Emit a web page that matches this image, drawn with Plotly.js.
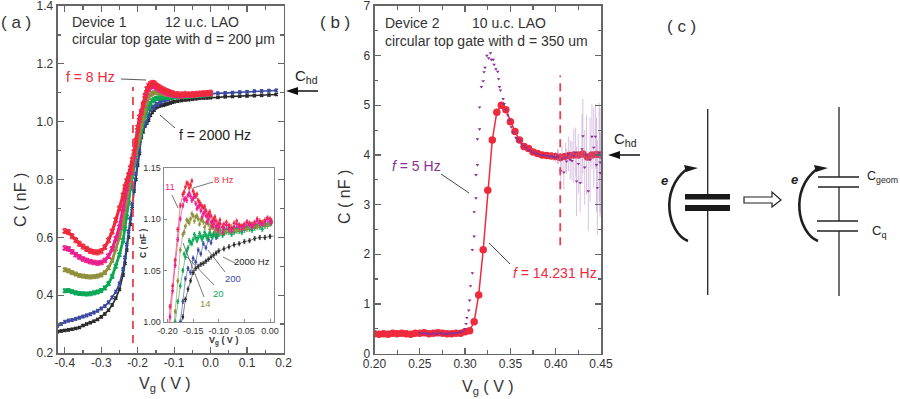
<!DOCTYPE html>
<html><head><meta charset="utf-8">
<script src="https://cdn.plot.ly/plotly-3.0.1.min.js"></script>
<style>html,body{margin:0;padding:0;background:#fff}</style></head>
<body><div id="g" style="width:900px;height:399px"></div>
<script>
// ---------- panel (a) data ----------
const vgExtra=[-0.42,-0.41];
const vgLow=[-0.40,-0.39,-0.38,-0.37,-0.36,-0.35,-0.34,-0.33,-0.32,-0.31,-0.30,-0.29,-0.28,-0.27,-0.26,-0.25,-0.24];
const vgMid=[-0.235,-0.23,-0.225,-0.22,-0.215,-0.21,-0.205,-0.20,-0.195,-0.19,-0.185,-0.18,-0.175,-0.17,-0.165,-0.16,-0.155,-0.15,-0.145,-0.14,-0.135,-0.13,-0.125,-0.12,-0.115,-0.11,-0.105,-0.10];
const vgHigh=[-0.09,-0.08,-0.07,-0.06,-0.05,-0.04,-0.03,-0.02,-0.01,0.0];
const vgTail=[0.02,0.04,0.06,0.08,0.10,0.12,0.14,0.16,0.18];
const c8=[.622,.618,.604,.59,.578,.568,.56,.553,.549,.548,.552,.566,.59,.62,.66,.70,.745,
 .775,.795,.815,.84,.868,.895,.935,.98,1.015,1.035,1.06,1.09,1.113,1.124,1.131,1.134,1.133,1.127,1.122,1.118,1.114,1.111,1.108,1.105,1.103,1.10,1.098,1.096,
 1.095,1.094,1.096,1.094,1.095,1.096,1.097,1.098,1.099,1.10];
const c11=[.563,.56,.55,.54,.532,.525,.52,.516,.513,.511,.513,.52,.535,.56,.595,.635,.70,
 .74,.77,.80,.825,.85,.88,.92,.97,1.005,1.03,1.055,1.08,1.10,1.113,1.12,1.123,1.122,1.12,1.115,1.112,1.108,1.105,1.103,1.10,1.097,1.095,1.093,1.092,
 1.091,1.09,1.092,1.092,1.093,1.094,1.095,1.096,1.097,1.098];
const c14=[.488,.484,.478,.473,.468,.466,.464,.463,.464,.466,.47,.478,.495,.52,.56,.60,.65,
 .69,.72,.76,.80,.835,.865,.89,.92,.945,.985,1.01,1.04,1.07,1.085,1.093,1.098,1.10,1.103,1.102,1.10,1.099,1.097,1.096,1.095,1.093,1.092,1.091,1.09,
 1.089,1.089,1.09,1.09,1.091,1.092,1.093,1.094,1.095,1.096];
const c20=[.415,.416,.412,.408,.406,.405,.404,.405,.408,.411,.416,.425,.44,.465,.50,.54,.59,
 .63,.67,.72,.77,.81,.85,.885,.915,.94,.965,1.0,1.02,1.035,1.05,1.063,1.072,1.077,1.08,1.082,1.082,1.083,1.083,1.084,1.084,1.084,1.085,1.085,1.085,
 1.086,1.087,1.087,1.088,1.089,1.09,1.091,1.092,1.093,1.095];
const c200=[.294,.30,.308,.312,.314,.318,.322,.326,.33,.334,.34,.346,.354,.362,.375,.392,.412,.44,.49,
 .53,.575,.62,.665,.715,.775,.82,.865,.90,.95,.975,.99,1.0,1.02,1.042,1.052,1.048,1.062,1.058,1.07,1.066,1.076,1.072,1.08,1.077,1.085,1.082,1.089,
 1.086,1.092,1.09,1.094,1.092,1.095,1.094,1.096,1.095,1.097,
 1.098,1.099,1.10,1.102,1.103,1.105,1.106,1.107,1.108];
const c2000=[.274,.276,.278,.28,.282,.285,.288,.295,.30,.305,.31,.316,.325,.335,.348,.366,.39,.42,.47,
 .51,.556,.60,.645,.70,.76,.80,.85,.89,.945,.965,.985,.995,1.005,1.022,1.032,1.04,1.048,1.052,1.054,1.056,1.057,1.059,1.061,1.063,1.065,1.067,1.069,
 1.071,1.073,1.075,1.076,1.078,1.079,1.081,1.082,1.082,1.083,
 1.084,1.086,1.087,1.088,1.089,1.09,1.091,1.092,1.094];
// second sweep readings, seen in the inset's scatter
const vgScan=[-0.1675,-0.1625,-0.1575,-0.1525,-0.1475,-0.1425,-0.1375,-0.1325,-0.1275,-0.1225,-0.1175,-0.1125,-0.1075,-0.1025,-0.0975,-0.0925,-0.085,-0.075,-0.065,-0.055,-0.045,-0.035,-0.025,-0.015,-0.005,0.0025];
const scan8=[1.126,1.135,1.130,1.137,1.124,1.124,1.116,1.112,1.112,1.103,1.107,1.098,1.102,1.094,1.099,1.092,1.097,1.091,1.098,1.093,1.097,1.094,1.100,1.096,1.101,1.098];
const scan11=[1.119,1.118,1.125,1.118,1.122,1.110,1.113,1.102,1.107,1.097,1.103,1.092,1.098,1.089,1.095,1.087,1.094,1.088,1.095,1.090,1.097,1.092,1.098,1.094,1.100,1.096];
const scan14=[1.087,1.099,1.096,1.105,1.098,1.103,1.095,1.100,1.092,1.098,1.090,1.095,1.088,1.093,1.086,1.092,1.087,1.092,1.088,1.093,1.090,1.095,1.092,1.097,1.093,1.099];
const scan20=[1.066,1.069,1.079,1.076,1.085,1.079,1.086,1.080,1.087,1.081,1.087,1.082,1.088,1.083,1.089,1.084,1.090,1.085,1.091,1.087,1.092,1.089,1.094,1.090,1.095,1.096];
const xTicksA=[-0.4,-0.3,-0.2,-0.1,0,0.1,0.2];
const xLabelsA=['-0.4','-0.3','-0.2','-0.1','0.0','0.1','0.2'];
const yTicksA=[0.2,0.4,0.6,0.8,1.0,1.2,1.4];
const yLabelsA=['0.2','0.4','0.6','0.8','1.0','1.2','1.4'];
const xTicksIn=[-0.2,-0.15,-0.1,-0.05,0];
const xLabelsIn=['-0.20','-0.15','-0.10','-0.05','0.00'];
// ---------- panel (b) data ----------
const v14=[.20,.205,.21,.215,.22,.225,.23,.235,.24,.245,.25,.255,.26,.265,.27,.275,.28,.285,.29,.295,.30,.305,.31,.315,.32,.325,.33,.335,.34,.345,.35,.355,.36,.365,.37,.375,.38,.385,.39,.395,.40,.405,.41,.415,.42,.425,.43,.435,.44,.445,.45];
const c14231=[.40,.39,.40,.39,.41,.40,.41,.40,.39,.41,.41,.42,.40,.41,.42,.41,.40,.40,.41,.41,.44,.46,.64,1.18,2.09,3.29,4.30,4.86,5.0,4.91,4.67,4.47,4.30,4.17,4.13,4.06,4.03,4.0,3.99,3.98,3.97,3.95,3.97,3.99,4.0,4.0,4.02,3.96,4.0,4.01,4.0];
const v5=[.25,.2525,.255,.2575,.26,.2625,.265,.2675,.27,.2725,.275,.2775,.28,.2825,.285,.2875,.29,.2925,.295,.2975,.30,.301,.302,.304,.305,.306,.308,.308,.31,.31,.312,.312,.3136,.3136,.316,.316,.318,.32,.321,.322,.324,.326,.328,.329,.331,.332,.334,.336,.337,.338,.339,.342,.343,.345,.347,.349,.351,.353,.356,.36,.365,.37,.375,.38,.385,.39,.395,.40,.403,.4055,.409,.412,.416,.42,.423,.427,.43,.436,.44,.444,.446,.449,.449];
const c5=[.41,.40,.41,.40,.39,.40,.41,.39,.40,.41,.40,.39,.40,.40,.41,.40,.41,.42,.43,.45,.50,.60,.72,.87,1.07,1.36,1.62,2.09,2.36,2.85,3.13,3.6,3.8,4.32,4.52,4.96,5.37,5.49,5.67,5.76,6.0,5.95,6.05,5.92,5.92,5.82,5.73,5.68,5.53,5.37,5.3,5.13,5.03,4.9,4.8,4.7,4.56,4.45,4.35,4.28,4.18,4.1,4.05,4.02,4.0,3.98,3.98,3.95,3.96,3.68,3.65,3.87,3.9,3.98,3.47,3.44,4.38,3.27,4.37,4.37,3.34,3.64,3.85];
const e5=[.02,.02,.02,.02,.02,.02,.02,.02,.02,.02,.02,.02,.02,.02,.02,.02,.02,.02,.02,.02,.02,.02,.02,.02,.02,.02,.02,.02,.02,.02,.02,.02,.02,.02,.02,.02,.02,.02,.02,.02,.02,.02,.02,.02,.02,.02,.02,.02,.02,.02,.02,.02,.02,.02,.02,.02,.02,.02,.02,.02,.02,.02,.02,.02,.02,.03,.05,.1,.15,.3,.35,.25,.4,.55,.7,.6,.75,.8,.65,.65,.95,.8,1.1];
const v5b=[.3575,.3625,.3675,.3725,.3775,.3825,.3875,.3925,.3975,.402,.407,.411,.414,.418,.422,.425,.429,.432,.434,.438,.442,.445,.448];
const c5b=[4.33,4.22,4.14,4.08,4.03,4.0,3.99,3.97,3.96,3.97,3.92,3.95,4.02,3.88,4.05,3.82,4.12,3.75,4.0,3.9,4.15,3.8,4.05];
const e5b=[.02,.02,.02,.02,.02,.02,.03,.04,.08,.15,.25,.3,.35,.4,.5,.6,.7,.75,.8,.85,.8,.95,1.0];
const xTicksB=[.20,.25,.30,.35,.40,.45];
const xLabelsB=['0.20','0.25','0.30','0.35','0.40','0.45'];
// ---------- colours ----------
const RED='#ee2a3c',MAG='#ec1f8e',OLV='#8f8f3c',GRN='#0aa755',BLU='#3b4a9f',BLK='#2a2a2a',PUR='#8a2f96',DASH='#e8404a',FRM='#666666',TXT='#333333';
const FONT='"Liberation Sans",Arial,sans-serif';

const W=900,H=399;
const px=x=>x/W, py=y=>1-y/H;
const xa=(l,r)=>[px(l),px(r)], ya=(t,b)=>[py(b),py(t)];

const xAll=vgLow.concat(vgMid,vgHigh);
const xLong=vgExtra.concat(vgLow,vgMid,vgHigh,vgTail);
const order=[
 {x:xLong,y:c2000,c:BLK,m:3,l:1.6,e:.004},
 {x:xLong,y:c200,c:BLU,m:3,l:1.6,e:.005},
 {x:xAll,y:c20,c:GRN,m:4,l:2.8,e:.007},
 {x:xAll,y:c14,c:OLV,m:4,l:2.8,e:.007},
 {x:xAll,y:c11,c:MAG,m:4.5,l:3.2,e:.008},
 {x:xAll,y:c8,c:RED,m:4.5,l:3.2,e:.009}];
const traces=[];
order.forEach(s=>traces.push({type:'scatter',mode:'lines+markers',x:s.x,y:s.y,xaxis:'x',yaxis:'y',
  line:{color:s.c,width:s.l},marker:{color:s.c,size:s.m,symbol:'x-thin',line:{color:s.c,width:1.5}},
  error_y:{type:'constant',value:s.e,color:s.c,thickness:1,width:1.5},hoverinfo:'skip'}));
const scans={[GRN]:scan20,[OLV]:scan14,[RED]:scan8,[MAG]:scan11};
[order[1],order[0],order[2],order[3],order[5],order[4]].forEach(s=>{
  traces.push({type:'scatter',mode:'lines+markers',x:s.x,y:s.y,xaxis:'x3',yaxis:'y3',
   line:{color:s.c,width:.6},marker:{color:s.c,size:2.8},
   error_y:{type:'constant',value:.002,color:s.c,thickness:.7,width:1},hoverinfo:'skip'});
  if(scans[s.c]) traces.push({type:'scatter',mode:'markers',x:vgScan,y:scans[s.c],xaxis:'x3',yaxis:'y3',
   marker:{color:s.c,size:2.8},error_y:{type:'constant',value:.002,color:s.c,thickness:.7,width:1},hoverinfo:'skip'});
});
traces.push({type:'scatter',mode:'lines+markers',x:v14,y:c14231,xaxis:'x2',yaxis:'y2',
  line:{color:RED,width:1.5},marker:{color:RED,size:7.5},hoverinfo:'skip'});
[[v5,c5,e5],[v5b,c5b,e5b]].forEach(d=>traces.push({type:'scatter',mode:'markers',x:d[0],y:d[1],xaxis:'x2',yaxis:'y2',
  marker:{color:PUR,size:3.2,symbol:'triangle-down'},
  error_y:{type:'data',array:d[2],color:'rgba(170,120,190,.45)',thickness:1,width:0},hoverinfo:'skip'}));

const axBase={showgrid:false,zeroline:false,showline:true,linecolor:FRM,linewidth:1.8,mirror:'allticks',ticks:'inside',tickcolor:FRM,tickwidth:1.3,ticklen:6,tickfont:{family:FONT,size:12,color:TXT},automargin:false,ticklabeloverflow:'allow'};
const minor=d=>({dtick:d,ticks:'inside',ticklen:3.5,tickcolor:FRM,tickwidth:1.2});
const inBase={showgrid:false,zeroline:false,showline:true,linecolor:'#8a8a8a',linewidth:1,mirror:true,ticks:'inside',tickcolor:'#8a8a8a',ticklen:3,tickfont:{family:FONT,size:9,color:TXT},automargin:false,ticklabeloverflow:'allow'};

const layout={width:W,height:H,margin:{l:0,r:0,t:0,b:0,pad:0},paper_bgcolor:'#fff',plot_bgcolor:'rgba(0,0,0,0)',showlegend:false,
 xaxis:Object.assign({},axBase,{domain:xa(57.5,283.5),range:[-0.42,0.2],tickmode:'array',tickvals:xTicksA,ticktext:xLabelsA,minor:minor(0.05),anchor:'y',ticklabelstandoff:-2}),
 yaxis:Object.assign({},axBase,{domain:ya(6,353),range:[0.2,1.4],tickmode:'array',tickvals:yTicksA,ticktext:yLabelsA,minor:minor(0.1),anchor:'x'}),
 xaxis2:Object.assign({},axBase,{domain:xa(374.5,601),range:[0.2,0.45],tickmode:'array',tickvals:xTicksB,ticktext:xLabelsB,minor:minor(0.025),anchor:'y2',ticklabelstandoff:-2}),
 yaxis2:Object.assign({},axBase,{domain:ya(6,353.5),range:[0,7],dtick:1,tickformat:'d',minor:minor(0.5),anchor:'x2'}),
 xaxis3:Object.assign({},inBase,{domain:xa(163.5,273.7),range:[-0.2078,0.0072],tickmode:'array',tickvals:xTicksIn,ticktext:xLabelsIn,anchor:'y3'}),
 yaxis3:Object.assign({},inBase,{domain:ya(167.5,322),range:[1.0,1.15],dtick:.05,tickformat:'.2f',anchor:'x3'})
};

// helpers for notes and drawings in page pixels
const T=(x,y,text,o={})=>({xref:'paper',yref:'paper',x:px(o.a?x:x-2),y:py(y),text,showarrow:false,xanchor:o.a||'left',yanchor:'middle',textangle:o.r||0,
  font:{family:FONT,size:o.s||13,color:o.c||TXT}});
const L=(x0,y0,x1,y1,c='#333',w=1,dash='solid')=>({type:'line',xref:'paper',yref:'paper',x0:px(x0),y0:py(y0),x1:px(x1),y1:py(y1),line:{color:c,width:w,dash}});
const P=(pts,fill='#222',lc=null,w=0)=>({type:'path',xref:'paper',yref:'paper',
  path:pts.map((p,i)=>(i?'L':'M')+px(p[0])+' '+py(p[1])).join(' ')+' Z',fillcolor:fill,line:{color:lc||fill,width:w}});
const C=(a,b,c,d,col='#1f1f1f',w=2.6)=>({type:'path',xref:'paper',yref:'paper',
  path:`M${px(a[0])} ${py(a[1])} C${px(b[0])} ${py(b[1])} ${px(c[0])} ${py(c[1])} ${px(d[0])} ${py(d[1])}`,line:{color:col,width:w}});

layout.annotations=[
 T(16,22,'( a )',{a:'center',s:17}),T(335,22,'( b )',{a:'center',s:17}),T(681,26,'( c )',{a:'center',s:17}),
 T(72,22,'Device 1',{s:14}),T(165,22,'12 u.c. LAO',{s:14}),T(72,39,'circular top gate with d = 200 μm',{s:14}),
 T(66,77,'f = 8 Hz',{c:RED,s:14}),T(179,135,'f = 2000 Hz',{c:'#222',s:14}),
 T(295,77,'C<sub>hd</sub>',{c:'#222',s:15}),
 T(20,200,'C ( nF )',{a:'center',r:-90,s:16}),T(165,384,'V<sub>g</sub> ( V )',{a:'center',s:16}),
 T(224,179,'8 Hz',{a:'center',c:RED,s:9.5}),T(170,186,'11',{a:'center',c:MAG,s:9.5}),
 T(205,303,'14',{a:'center',c:OLV,s:9.5}),T(218,293,'20',{a:'center',c:GRN,s:9.5}),T(233,278,'200',{a:'center',c:BLU,s:9.5}),T(252,261,'2000 Hz',{a:'center',c:'#222',s:9.5}),
 T(143,244,'<b>C ( nF )</b>',{a:'center',r:-90,s:8.5}),T(223,341,'<b>V<sub>g</sub> ( V )</b>',{a:'center',s:9}),
 T(385,23,'Device 2',{s:14}),T(472,23,'10 u.c. LAO',{s:14}),T(385,41,'circular top gate with d = 350 um',{s:14}),
 T(392,166,'<i>f</i> = 5 Hz',{c:PUR,s:14}),T(513,273,'<i>f</i> = 14.231 Hz',{c:RED,s:14}),
 T(614,139,'C<sub>hd</sub>',{c:'#222',s:15}),
 T(345,197,'C ( nF )',{a:'center',r:-90,s:16}),T(488,387,'V<sub>g</sub> ( V )',{a:'center',s:16}),
 T(664,181,'<b><i>e</i></b>',{a:'center',c:'#222',s:13}),T(794,179,'<b><i>e</i></b>',{a:'center',c:'#222',s:13}),
 T(867,177,'C<sub>geom</sub>',{c:'#222',s:12.5}),T(872,231,'C<sub>q</sub>',{c:'#222',s:13})
];
layout.shapes=[
 // dashed gate markers
 {type:'line',xref:'x',yref:'y',x0:-0.213,x1:-0.213,y0:.235,y1:1.12,line:{color:DASH,width:1.8,dash:'8px,6px'}},
 {type:'line',xref:'x2',yref:'y2',x0:.405,x1:.405,y0:2.18,y1:5.6,line:{color:DASH,width:1.8,dash:'8px,6px'}},
 // leaders
 L(121,79,146,80,'#444',.9),L(160,115,175,128,'#444',.9),
 L(193,188,213,182,'#555',.8),L(172,195,178,208,'#555',.8),L(183,243,204,297,'#555',.8),L(187,257,214,285,'#555',.8),L(208,250,225,272,'#555',.8),L(223,257,235,263,'#555',.8),
 L(441,174,469,193,'#333',.9),L(489,243,510,264,'#333',.9),
 // C_hd arrows
 L(296,91,318,91,'#111',1.5),P([[286,91],[298,87],[298,95]],'#111'),
 L(618,155,640,155,'#111',1.5),P([[608,155],[620,151],[620,159]],'#111'),
 // panel c: left capacitor
 L(707.7,109,707.7,197,'#222',1.3),L(707.7,208,707.7,295,'#222',1.3),
 P([[685,194],[730,194],[730,199.5],[685,199.5]],'#1a1a1a'),P([[685,205],[730,205],[730,211],[685,211]],'#1a1a1a'),
 C([688,241],[668,233],[659,190],[687,169]),P([[684,165],[698,168],[686,172]],'#1a1a1a'),
 // hollow arrow
 P([[744,197],[772,197],[772,192],[781,200],[772,207],[772,203],[744,203]],'#fff','#222',1.2),
 // panel c: right capacitors
 L(839,107,839,177,'#222',1.3),L(839,187,839,221,'#222',1.3),L(839,231,839,296,'#222',1.3),
 L(818,177,859,177,'#222',1.4),L(818,187,859,187,'#222',1.4),L(817,221,858,221,'#222',1.4),L(817,231,858,231,'#222',1.4),
 C([818,241],[798,233],[789,190],[817,169]),P([[814,165],[828,168],[816,172]],'#1a1a1a')
];
Plotly.newPlot('g',traces,layout,{displayModeBar:false,staticPlot:true});
</script></body></html>
